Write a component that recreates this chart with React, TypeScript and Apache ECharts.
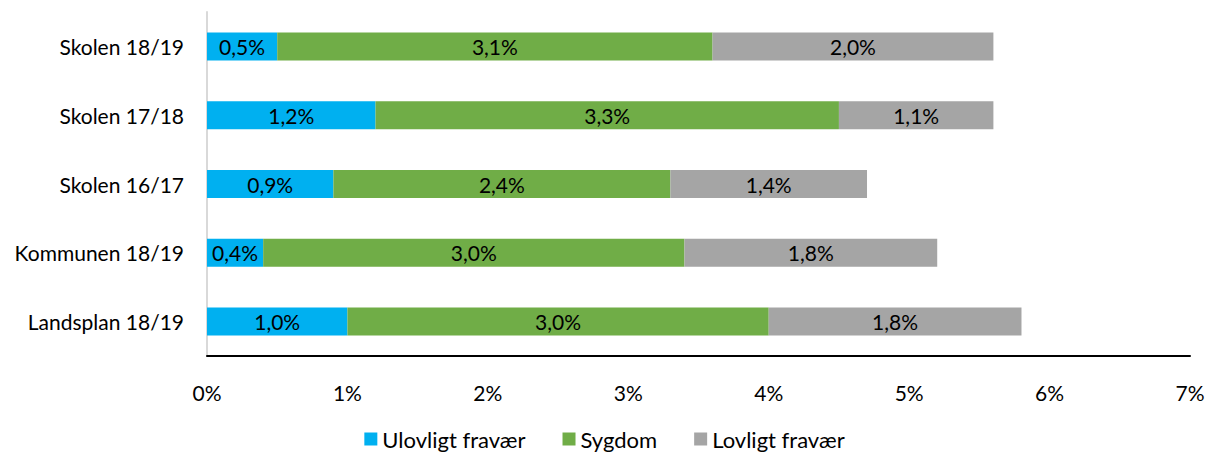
import React, { useEffect, useRef } from "react";
import * as echarts from "echarts";

const categories = ["Skolen 18/19", "Skolen 17/18", "Skolen 16/17", "Kommunen 18/19", "Landsplan 18/19"];
const ulovligt = [0.5, 1.2, 0.9, 0.4, 1.0];
const sygdom = [3.1, 3.3, 2.4, 3.0, 3.0];
const lovligt = [2.0, 1.1, 1.4, 1.8, 1.8];
const seriesNames = ["Ulovligt fravær", "Sygdom", "Lovligt fravær"];
const colors = ["#00B0F0", "#70AD47", "#A5A5A5"];

const FONT = "Lato";
const FS = 21;

export default function App() {
  const ref = useRef<HTMLDivElement>(null);
  useEffect(() => {
    const chart = echarts.init(ref.current!, null, { renderer: "svg" });
    const fmt = (p: any) => p.value.toFixed(1).replace(".", ",") + "%";
    const mk = (name: string, data: number[], color: string) => ({
      name,
      type: "bar",
      stack: "total",
      data,
      barWidth: 28,
      itemStyle: { color },
      label: {
        show: true,
        position: "inside",
        formatter: fmt,
        color: "#000",
        fontFamily: FONT,
        fontSize: FS,
      },
    });
    chart.setOption({
      animation: false,
      textStyle: { fontFamily: FONT },
      grid: { left: 207, right: 19, top: 12, bottom: 96, containLabel: false },
      legend: {
        top: 428,
        left: "center",
        itemWidth: 13,
        itemHeight: 13,
        itemGap: 37,
        icon: "rect",
        padding: 0,
        textStyle: { fontFamily: FONT, fontSize: 22, color: "#000" },
        data: seriesNames,
      },
      xAxis: {
        type: "value",
        min: 0,
        max: 7,
        interval: 1,
        axisLine: { show: true, lineStyle: { color: "#000", width: 2 } },
        axisTick: { show: false },
        splitLine: { show: false },
        axisLabel: {
          margin: 26,
          color: "#000",
          fontFamily: FONT,
          fontSize: FS,
          formatter: (v: number) => v + "%",
        },
      },
      yAxis: {
        type: "category",
        inverse: true,
        data: categories,
        axisLine: { show: true, lineStyle: { color: "#D9D9D9", width: 2 } },
        axisTick: { show: false },
        axisLabel: { margin: 23, color: "#000", fontFamily: FONT, fontSize: FS },
      },
      series: [
        mk(seriesNames[0], ulovligt, colors[0]),
        mk(seriesNames[1], sygdom, colors[1]),
        mk(seriesNames[2], lovligt, colors[2]),
      ],
    });
    return () => chart.dispose();
  }, []);
  return <div ref={ref} style={{ width: 1209, height: 452, position: "absolute", left: 0, top: 0 }} />;
}
